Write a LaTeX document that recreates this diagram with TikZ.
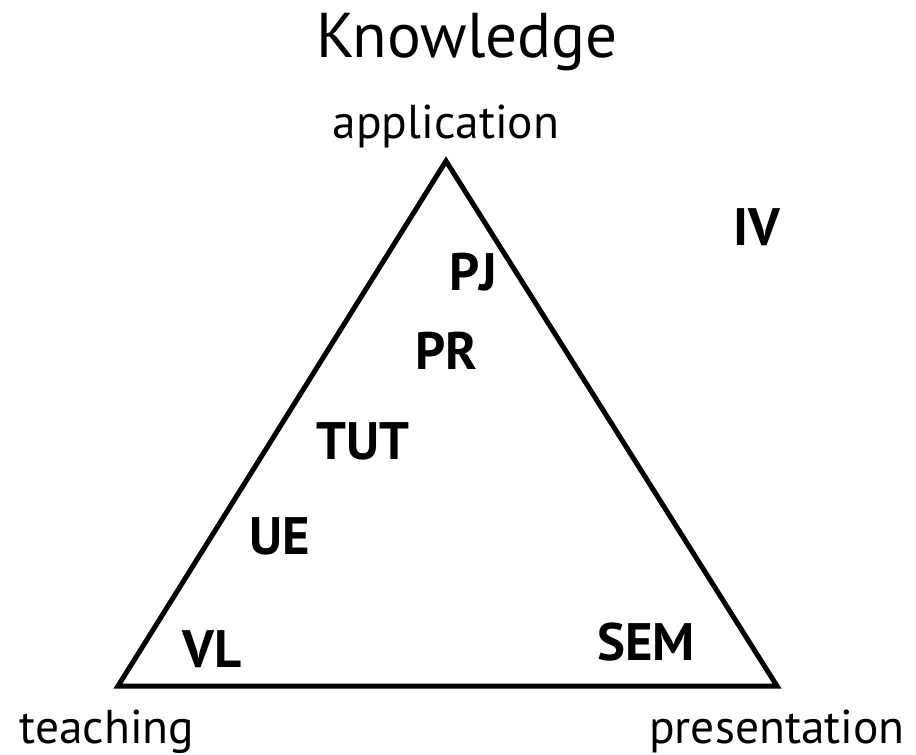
\documentclass[tikz,border=0pt]{standalone}
\usepackage{fontspec}
\setmainfont{PT Sans}
\begin{document}
\begin{tikzpicture}[x=0.02cm, y=-0.02cm,
    corner/.style={anchor=base, font=\fontsize{27}{30}\selectfont},
    form/.style={anchor=base, font=\bfseries\fontsize{30}{34}\selectfont}]
  \useasboundingbox (0, 0) rectangle (916, 754);

  \node[anchor=base] (title) at (467, 57) {\fontsize{36}{40}\selectfont Knowledge};

  % the triangle
  \coordinate (top) at (446, 161);
  \coordinate (left) at (118, 686);
  \coordinate (right) at (777, 686);
  \draw[line width=2.85pt] (left) -- (top) -- (right) -- cycle;

  \node[corner] (app) at (446, 138) {application};
  \node[corner] (teach) at (107, 743) {teaching};
  \node[corner] (pres) at (777, 743) {presentation};

  \node[form] (pj) at (473, 290) {PJ};
  \node[form] (pr) at (446, 369) {PR};
  \node[form] (tut) at (363, 459) {TUT};
  \node[form] (ue) at (280, 554) {UE};
  \node[form] (vl) at (212, 667) {VL};
  \node[form] (sem) at (646, 660) {SEM};
  \node[form] (iv) at (757, 245) {IV};
\end{tikzpicture}
\end{document}
